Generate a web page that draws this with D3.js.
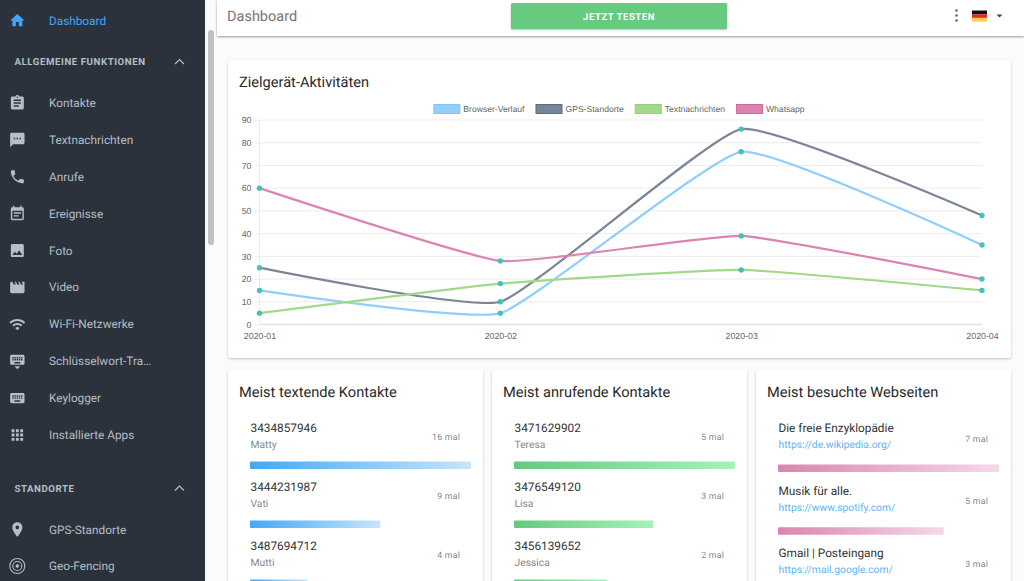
<!DOCTYPE html>
<html lang="de">
<head>
<meta charset="utf-8">
<title>Dashboard</title>
<script src="https://cdnjs.cloudflare.com/ajax/libs/d3/7.8.5/d3.min.js"></script>
<style>
    html, body { margin: 0; padding: 0; background: #fbfbfb; overflow: hidden; }
    svg { display: block; font-family: Roboto, sans-serif; text-rendering: geometricPrecision; }
    .card { fill: #fff; filter: drop-shadow(0 1px 1px rgba(0,0,0,0.22)); }
    .axis text { font-family: "Liberation Sans", Arial, sans-serif; font-size: 8.8px; fill: #666; }
    .axis .domain { display: none; }
    .axis line { stroke: #ececec; }
</style>
</head>
<body>
<svg id="page" width="1024" height="581"></svg>
<script>
// donnees du graphique
const months = ['2020-01', '2020-02', '2020-03', '2020-04'];
const seriesNames = ['Browser-Verlauf', 'GPS-Standorte', 'Textnachrichten', 'Whatsapp'];
const browserValues = [15, 5, 76, 35];
const gpsValues = [25, 10, 86, 48];
const textValues = [5, 18, 24, 15];
const whatsappValues = [60, 28, 39, 20];
const yTicks = [0, 10, 20, 30, 40, 50, 60, 70, 80, 90];

const lineColors = ['#90cefc', '#7b8597', '#a0d989', '#dc84b1'];
const legendFills = ['#94cefb', '#78849a', '#a3d88d', '#da85b0'];
const legendBorders = ['#80c4fb', '#5d6a80', '#8fd57c', '#d9639f'];

// listes du bas
const textNumbers = ['3434857946', '3444231987', '3487694712'];
const textNames = ['Matty', 'Vati', 'Mutti'];
const textCounts = ['16 mal', '9 mal', '4 mal'];
const textShares = [100, 59, 26];

const callNumbers = ['3471629902', '3476549120', '3456139652'];
const callNames = ['Teresa', 'Lisa', 'Jessica'];
const callCounts = ['5 mal', '3 mal', '2 mal'];
const callShares = [100, 63, 42];

const siteTitles = ['Die freie Enzyklopädie', 'Musik für alle.', 'Gmail | Posteingang'];
const siteUrls = ['https://de.wikipedia.org/', 'https://www.spotify.com/', 'https://mail.google.com/'];
const siteCounts = ['7 mal', '5 mal', '3 mal'];
const siteShares = [100, 75, 45];

// menu
const menuLabels = ['Kontakte', 'Textnachrichten', 'Anrufe', 'Ereignisse', 'Foto', 'Video', 'Wi-Fi-Netzwerke', 'Schlüsselwort-Tra…', 'Keylogger', 'Installierte Apps'];
const placeLabels = ['GPS-Standorte', 'Geo-Fencing'];

const icons = {
    home: 'M10 20v-6h4v6h5v-8h3L12 3 2 12h3v8z',
    Kontakte: 'M19 3h-4.18C14.4 1.84 13.3 1 12 1c-1.3 0-2.4.84-2.82 2H5c-1.1 0-2 .9-2 2v14c0 1.1.9 2 2 2h14c1.1 0 2-.9 2-2V5c0-1.1-.9-2-2-2zm-7 0c.55 0 1 .45 1 1s-.45 1-1 1-1-.45-1-1 .45-1 1-1zm2 14H7v-2h7v2zm3-4H7v-2h10v2zm0-4H7V7h10v2z',
    Textnachrichten: 'M20 2H4c-1.1 0-1.99.9-1.99 2L2 22l4-4h14c1.1 0 2-.9 2-2V4c0-1.1-.9-2-2-2zM9 11H7V9h2v2zm4 0h-2V9h2v2zm4 0h-2V9h2v2z',
    Anrufe: 'M6.62 10.79c1.44 2.83 3.76 5.14 6.59 6.59l2.2-2.2c.27-.27.67-.36 1.02-.24 1.12.37 2.33.57 3.57.57.55 0 1 .45 1 1V20c0 .55-.45 1-1 1-9.39 0-17-7.61-17-17 0-.55.45-1 1-1h3.5c.55 0 1 .45 1 1 0 1.25.2 2.45.57 3.57.11.35.03.74-.25 1.02l-2.2 2.2z',
    Ereignisse: 'M17 10H7v2h10v-2zm2-7h-1V1h-2v2H8V1H6v2H5c-1.11 0-1.99.9-1.99 2L3 19c0 1.1.89 2 2 2h14c1.1 0 2-.9 2-2V5c0-1.1-.9-2-2-2zm0 16H5V8h14v11zm-5-5H7v2h7v-2z',
    Foto: 'M21 19V5c0-1.1-.9-2-2-2H5c-1.1 0-2 .9-2 2v14c0 1.1.9 2 2 2h14c1.1 0 2-.9 2-2zM8.5 13.5l2.5 3.01L14.5 12l4.5 6H5l3.5-4.5z',
    Video: 'M18 4l2 4h-3l-2-4h-2l2 4h-3l-2-4H8l2 4H7L5 4H4c-1.1 0-1.99.9-1.99 2L2 18c0 1.1.9 2 2 2h16c1.1 0 2-.9 2-2V4h-4z',
    'Wi-Fi-Netzwerke': 'M1 9l2 2c4.97-4.97 13.03-4.97 18 0l2-2C16.93 2.93 7.08 2.93 1 9zm8 8l3 3 3-3c-1.65-1.66-4.34-1.66-6 0zm-4-4l2 2c2.76-2.76 7.24-2.76 10 0l2-2C15.14 9.14 8.87 9.14 5 13z',
    'Schlüsselwort-Tra…': 'M20 3H4c-1.1 0-1.99.9-1.99 2L2 15c0 1.1.9 2 2 2h16c1.1 0 2-.9 2-2V5c0-1.1-.9-2-2-2zm-9 3h2v2h-2V6zm0 3h2v2h-2V9zM8 6h2v2H8V6zm0 3h2v2H8V9zm-1 2H5V9h2v2zm0-3H5V6h2v2zm9 7H8v-2h8v2zm0-4h-2V9h2v2zm0-3h-2V6h2v2zm3 3h-2V9h2v2zm0-3h-2V6h2v2zm-7 15l4-4H8l4 4z',
    Keylogger: 'M20 5H4c-1.1 0-1.99.9-1.99 2L2 17c0 1.1.9 2 2 2h16c1.1 0 2-.9 2-2V7c0-1.1-.9-2-2-2zm-9 3h2v2h-2V8zm0 3h2v2h-2v-2zM8 8h2v2H8V8zm0 3h2v2H8v-2zm-1 2H5v-2h2v2zm0-3H5V8h2v2zm9 7H8v-2h8v2zm0-4h-2v-2h2v2zm0-3h-2V8h2v2zm3 3h-2v-2h2v2zm0-3h-2V8h2v2z',
    'Installierte Apps': 'M4 8h4V4H4v4zm6 12h4v-4h-4v4zm-6 0h4v-4H4v4zm0-6h4v-4H4v4zm6 0h4v-4h-4v4zm6-10v4h4V4h-4zm-6 4h4V4h-4v4zm6 6h4v-4h-4v4zm0 6h4v-4h-4v4z',
    'GPS-Standorte': 'M12 2C8.13 2 5 5.13 5 9c0 5.25 7 13 7 13s7-7.75 7-13c0-3.87-3.13-7-7-7zm0 9.5c-1.38 0-2.5-1.12-2.5-2.5s1.12-2.5 2.5-2.5 2.5 1.12 2.5 2.5-1.12 2.5-2.5 2.5z'
};

const svg = d3.select('#page');
const sideColor = '#2b323c';
const sideText = '#b4bfc6';

// fond, barre de defilement
svg.append('rect').attr('x', 205).attr('y', 0).attr('width', 819).attr('height', 581).attr('fill', '#fbfbfb');
svg.append('rect').attr('x', 208).attr('y', 30).attr('width', 6).attr('height', 215).attr('rx', 3).attr('fill', '#c1c1c1');

// Barre laterale
const side = svg.append('g');
side.append('rect').attr('width', 205).attr('height', 581).attr('fill', sideColor);

function menuRow(label, y, iconPath, color) {
    side.append('path').attr('d', iconPath).attr('fill', color)
        .attr('transform', `translate(8.7,${y - 8.6}) scale(0.72)`);
    side.append('text').attr('x', 49).attr('y', y + 4).attr('fill', color)
        .attr('font-size', 11.8).text(label);
}

function menuHeader(label, y) {
    side.append('text').attr('x', 14.5).attr('y', y + 3.5).attr('fill', sideText)
        .attr('font-size', 9.7).attr('font-weight', 700).attr('letter-spacing', 0.55).text(label);
    side.append('path').attr('d', `M175 ${y + 2.5}l4.5-4.5 4.5 4.5`).attr('fill', 'none')
        .attr('stroke', sideText).attr('stroke-width', 1.2);
}

menuRow('Dashboard', 20.5, icons.home, '#42a5f5');
menuHeader('ALLGEMEINE FUNKTIONEN', 61.5);
const menuY = d3.scaleLinear().domain([0, menuLabels.length - 1]).range([103, 435]);
menuLabels.forEach((label, i) => menuRow(label, menuY(i), icons[label], sideText));
menuHeader('STANDORTE', 488);
menuRow(placeLabels[0], 529.5, icons[placeLabels[0]], sideText);
side.append('text').attr('x', 49).attr('y', 570).attr('fill', sideText).attr('font-size', 11.8).text(placeLabels[1]);
// icone geo-fencing
[7.5, 4.5, 1.8].forEach((r, i) => {
    side.append('circle').attr('cx', 17.3).attr('cy', 566).attr('r', r)
        .attr('fill', i === 2 ? sideText : 'none').attr('stroke', sideText).attr('stroke-width', i === 2 ? 0 : 1.1);
});

// Barre du haut
svg.append('rect').attr('x', 217).attr('y', 0).attr('width', 807).attr('height', 36).attr('fill', '#fff')
    .style('filter', 'drop-shadow(0 1px 1px rgba(0,0,0,0.4))');
svg.append('text').attr('x', 227).attr('y', 21).attr('font-size', 14.5).attr('fill', '#757575').text('Dashboard');
svg.append('rect').attr('x', 511).attr('y', 3).attr('width', 216).attr('height', 26).attr('rx', 1.5).attr('fill', '#66cb7e')
    .style('filter', 'drop-shadow(0 1px 1px rgba(0,0,0,0.25))');
svg.append('text').attr('x', 619).attr('y', 19.5).attr('text-anchor', 'middle').attr('font-size', 9.6)
    .attr('font-weight', 700).attr('letter-spacing', 0.5).attr('fill', '#fff').text('JETZT TESTEN');
[10.5, 15.5, 20.5].forEach(y => {
    svg.append('circle').attr('cx', 956.5).attr('cy', y).attr('r', 1.3).attr('fill', '#666');
});
['#111', '#dd2c22', '#fbd148'].forEach((c, i) => {
    svg.append('rect').attr('x', 972).attr('y', 10.5 + i * 3.7).attr('width', 15).attr('height', 3.7).attr('fill', c);
});
svg.append('path').attr('d', 'M996.5 14.5h6l-3 3z').attr('fill', '#444');

// Carte du graphique
svg.append('rect').attr('class', 'card').attr('x', 228).attr('y', 60).attr('width', 783).attr('height', 298).attr('rx', 2);
svg.append('text').attr('x', 239).attr('y', 87).attr('font-size', 14.6).attr('fill', '#2a2a2a').text('Zielgerät-Aktivitäten');

const x = d3.scalePoint().domain(months).range([259.5, 982]);
const y = d3.scaleLinear().domain([0, 90]).range([324.5, 120]);

const yAxis = d3.axisLeft(y).tickValues(yTicks).tickSize(5);
const xAxis = d3.axisBottom(x).tickSize(0).tickPadding(8);

svg.append('g').attr('class', 'axis').attr('transform', 'translate(259.5,0)').call(yAxis);
svg.append('g').attr('class', 'grid').selectAll('line').data(yTicks).join('line')
    .attr('x1', 259.5).attr('x2', 982)
    .attr('y1', d => y(d)).attr('y2', d => y(d))
    .attr('stroke', d => d === 0 ? '#e2e2e2' : '#ececec')
    .attr('stroke-width', d => d === 0 ? 1.6 : 1);
svg.append('line').attr('x1', 259.5).attr('x2', 259.5).attr('y1', y(90)).attr('y2', y(0)).attr('stroke', '#ececec');
svg.append('g').attr('class', 'axis').attr('transform', `translate(0,${y(0)})`).call(xAxis);

const allSeries = [browserValues, gpsValues, textValues, whatsappValues];
const line = d3.line()
    .x((_, i) => x(months[i]))
    .y(d => y(d))
    .curve(d3.curveCardinal.tension(0.62));

svg.append('g').selectAll('path').data(allSeries).join('path')
    .attr('d', line)
    .attr('fill', 'none')
    .attr('stroke', (_, i) => lineColors[i])
    .attr('stroke-width', 2.2);

allSeries.forEach(values => {
    svg.append('g').selectAll('circle').data(values).join('circle')
        .attr('cx', (_, i) => x(months[i]))
        .attr('cy', d => y(d))
        .attr('r', 2.7)
        .attr('fill', '#46bfbd');
});

// Legende, centree au dessus du graphique
const legend = svg.append('g').style('font-family', '"Liberation Sans", Arial, sans-serif');
let legendX = 0;
seriesNames.forEach((name, i) => {
    const item = legend.append('g').attr('transform', `translate(${legendX},0)`);
    item.append('rect').attr('x', 0.5).attr('y', 104.5).attr('width', 26).attr('height', 9)
        .attr('fill', legendFills[i]).attr('stroke', legendBorders[i]).attr('stroke-width', 1);
    const t = item.append('text').attr('x', 30).attr('y', 112).attr('font-size', 8.6).attr('fill', '#666').text(name);
    legendX += 30 + t.node().getComputedTextLength() + 11;
});
legend.attr('transform', `translate(${619 - (legendX - 11) / 2},0)`);

// Cartes du bas
const cardX = d3.scaleLinear().domain([0, 2]).range([228, 756]);
const shareWidth = d3.scaleLinear().domain([0, 100]).range([0, 221]);

const barGradients = [['#42a9f6', '#c8e4fb'], ['#66c97e', '#a6f2b9'], ['#d986b0', '#f5d8e7']];
barGradients.forEach((g, i) => {
    const grad = svg.append('defs').append('linearGradient').attr('id', 'bar' + i);
    grad.append('stop').attr('offset', '0%').attr('stop-color', g[0]);
    grad.append('stop').attr('offset', '100%').attr('stop-color', g[1]);
});

function listCard(index, title, mainTexts, subTexts, counts, shares, subColor, rowHeight, barOffset) {
    const left = cardX(index);
    const card = svg.append('g');
    card.append('rect').attr('class', 'card').attr('x', left).attr('y', 370).attr('width', 255).attr('height', 240).attr('rx', 2);
    card.append('text').attr('x', left + 11).attr('y', 397).attr('font-size', 14.6).attr('fill', '#2a2a2a').text(title);
    mainTexts.forEach((main, i) => {
        const top = i * rowHeight;
        card.append('text').attr('x', left + 22.5).attr('y', 432 + top).attr('font-size', 11.8).attr('fill', '#333').text(main);
        card.append('text').attr('x', left + 22.5).attr('y', 448 + top).attr('font-size', 10.3).attr('fill', subColor).text(subTexts[i]);
        card.append('text').attr('x', left + 232).attr('y', 439.5 + top + (barOffset ? 2 : 0)).attr('text-anchor', 'end')
            .attr('font-size', 8.8).attr('letter-spacing', 0.2).attr('fill', '#888').text(counts[i]);
        card.append('rect').attr('x', left + 22).attr('y', 461.5 + top + barOffset).attr('width', shareWidth(shares[i])).attr('height', 7.5)
            .attr('rx', 1).attr('fill', `url(#bar${index})`);
    });
}

listCard(0, 'Meist textende Kontakte', textNumbers, textNames, textCounts, textShares, '#888', 59, 0);
listCard(1, 'Meist anrufende Kontakte', callNumbers, callNames, callCounts, callShares, '#888', 59, 0);
listCard(2, 'Meist besuchte Webseiten', siteTitles, siteUrls, siteCounts, siteShares, '#5fb4f7', 62.7, 3);
</script>
</body>
</html>
